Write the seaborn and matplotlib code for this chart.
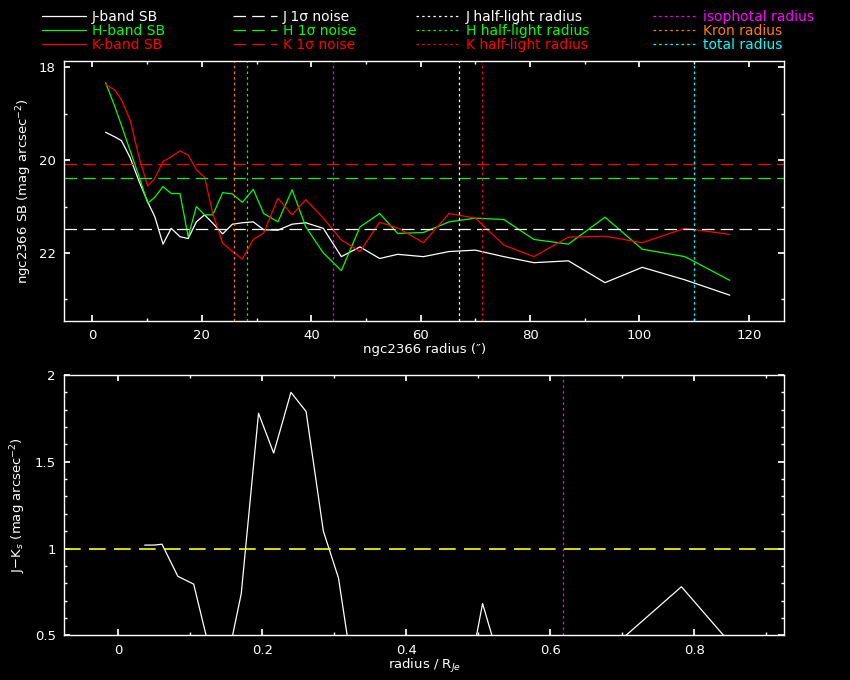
import matplotlib
matplotlib.use("Agg")
import matplotlib.pyplot as plt
from matplotlib.ticker import MultipleLocator, FuncFormatter
import pandas as pd
import seaborn as sns

# surface brightness profiles (radius in arcsec, SB in mag/arcsec^2)
radius = [2.4, 4.1, 5.3, 6.9, 8.5, 10.1, 11.4, 12.9, 14.4, 16.0, 17.5, 19.0, 20.5,
          22.0, 23.8, 25.6, 27.4, 29.4, 31.3, 33.9, 36.5, 39.0, 42.2, 45.5, 48.9,
          52.5, 55.8, 60.5, 65.2, 70.0, 75.2, 80.7, 87.0, 93.7, 100.5, 108.3, 116.5]
sb_j = [19.40, 19.50, 19.58, 19.95, 20.45, 20.90, 21.22, 21.81, 21.47, 21.65, 21.69,
        21.33, 21.18, 21.36, 21.59, 21.38, 21.35, 21.33, 21.50, 21.51, 21.38, 21.35,
        21.47, 22.08, 21.87, 22.12, 22.03, 22.08, 21.97, 21.94, 22.08, 22.21, 22.17,
        22.64, 22.31, 22.58, 22.91]
sb_h = [18.33, 18.85, 19.25, 19.80, 20.35, 20.93, 20.80, 20.57, 20.72, 20.72, 21.65,
        21.00, 21.18, 21.18, 20.70, 20.73, 20.91, 20.63, 21.15, 21.33, 20.64, 21.44,
        22.00, 22.38, 21.44, 21.15, 21.58, 21.56, 21.33, 21.25, 21.28, 21.71, 21.81,
        21.23, 21.92, 22.08, 22.59]
sb_k = [18.37, 18.49, 18.70, 19.14, 19.93, 20.56, 20.39, 20.03, 19.93, 19.80, 19.89,
        20.21, 20.37, 21.15, 21.79, 21.97, 22.13, 21.71, 21.57, 20.82, 21.18, 20.85,
        21.25, 21.72, 21.97, 21.34, 21.46, 21.78, 21.15, 21.25, 21.83, 22.08, 21.66,
        21.64, 21.78, 21.47, 21.60]

noise_j, noise_h, noise_k = 21.49, 20.39, 20.09
half_j, half_h, half_k = 67.0, 28.3, 71.2
r_iso, r_kron, r_total = 44.0, 25.9, 110.0

# colour profile
r_norm = [0.037, 0.050, 0.061, 0.083, 0.105, 0.128, 0.149, 0.171, 0.195, 0.216,
          0.240, 0.261, 0.285, 0.306, 0.330, 0.356, 0.383, 0.410, 0.440, 0.470,
          0.506, 0.545, 0.582, 0.630, 0.679, 0.782, 0.903]
j_minus_k = [1.02, 1.02, 1.025, 0.84, 0.795, 0.40, 0.30, 0.74, 1.78, 1.55,
             1.90, 1.79, 1.10, 0.83, 0.17, -0.20, -0.60, -0.75, -0.40, -0.10,
             0.683, 0.13, 0.35, 0.22, 0.405, 0.78, 0.20]
jk_ref = 1.0
r_iso_norm = 0.617

WHITE, GREEN, RED = "#ffffff", "#00ff00", "#ff0000"
ORANGE, MAGENTA, CYAN, YELLOW = "#ff8000", "#ff00ff", "#00ffff", "#ffff00"

sns.set_theme(style="ticks")
plt.rcParams.update({
    "figure.facecolor": "black",
    "axes.facecolor": "black",
    "axes.edgecolor": "white",
    "axes.linewidth": 1.0,
    "axes.labelcolor": "white",
    "text.color": "white",
    "xtick.color": "white",
    "ytick.color": "white",
    "xtick.direction": "in",
    "ytick.direction": "in",
    "xtick.top": True,
    "ytick.right": True,
    "xtick.major.size": 4.5,
    "ytick.major.size": 4.5,
    "xtick.minor.size": 2.5,
    "ytick.minor.size": 2.5,
    "xtick.major.pad": 6,
    "ytick.major.pad": 6,
    "xtick.labelsize": 9.5,
    "ytick.labelsize": 9.5,
    "axes.labelsize": 9.5,
    "axes.grid": False,
})
plt.rcParams["font.family"] = ["DejaVu Sans"]

prof = pd.DataFrame({"r": radius, "J": sb_j, "H": sb_h, "K": sb_k})
col = pd.DataFrame({"x": r_norm, "jk": j_minus_k})

fig = plt.figure(figsize=(8.5, 6.8), dpi=100)
ax1 = fig.add_axes([0.0753, 0.5284, 0.8476, 0.3815])
ax2 = fig.add_axes([0.0753, 0.0657, 0.8476, 0.3828])

lw = 0.9
dash = (0, (10, 5))
dot = (0, (2, 2.5))
groups = [[], [], [], []]
for band, c in [("J", WHITE), ("H", GREEN), ("K", RED)]:
    sns.lineplot(data=prof, x="r", y=band, ax=ax1, color=c, lw=lw,
                 sort=False, estimator=None)
    groups[0].append((ax1.lines[-1], f"{band}-band SB"))
for band, v, c in [("J", noise_j, WHITE), ("H", noise_h, GREEN), ("K", noise_k, RED)]:
    h = ax1.axhline(v, color=c, lw=lw, ls=dash)
    groups[1].append((h, f"{band} 1\u03c3 noise"))
for band, v, c in [("J", half_j, WHITE), ("H", half_h, GREEN), ("K", half_k, RED)]:
    h = ax1.axvline(v, color=c, lw=lw, ls=dot)
    groups[2].append((h, f"{band} half-light radius"))
for name, v, c in [("isophotal radius", r_iso, MAGENTA), ("Kron radius", r_kron, ORANGE),
                   ("total radius", r_total, CYAN)]:
    h = ax1.axvline(v, color=c, lw=lw, ls=dot)
    groups[3].append((h, name))

ax1.set_xlim(-5.2, 126.5)
ax1.set_ylim(23.46, 17.87)
ax1.xaxis.set_major_locator(MultipleLocator(20))
ax1.xaxis.set_minor_locator(MultipleLocator(10))
ax1.yaxis.set_major_locator(MultipleLocator(2))
ax1.yaxis.set_minor_locator(MultipleLocator(1))
ax1.set_xlabel("ngc2366 radius (\u2033)")
ax1.set_ylabel("ngc2366 SB (mag arcsec$^{-2}$)")
ax1.xaxis.set_label_coords(0.5, -0.085)
ax1.yaxis.set_label_coords(-0.042, 0.5)

sns.lineplot(data=col, x="x", y="jk", ax=ax2, color=WHITE, lw=lw,
             sort=False, estimator=None)
ax2.axhline(jk_ref, color=YELLOW, lw=1.2, ls=dash)
ax2.axvline(r_iso_norm, color=MAGENTA, lw=lw, ls=dot)
ax2.set_xlim(-0.075, 0.925)
ax2.set_ylim(0.5, 2.0)
ax2.xaxis.set_major_locator(MultipleLocator(0.2))
ax2.xaxis.set_minor_locator(MultipleLocator(0.1))
ax2.yaxis.set_major_locator(MultipleLocator(0.5))
ax2.yaxis.set_minor_locator(MultipleLocator(0.1))
fmt = FuncFormatter(lambda v, p: f"{v:g}")
ax2.xaxis.set_major_formatter(fmt)
ax2.yaxis.set_major_formatter(fmt)
ax2.set_xlabel("radius / R$_{Je}$")
ax2.set_ylabel("J\u2212K$_s$ (mag arcsec$^{-2}$)")
ax2.xaxis.set_label_coords(0.5, -0.085)
ax2.yaxis.set_label_coords(-0.050, 0.5)

for ax in (ax1, ax2):
    for s in ax.spines.values():
        s.set_visible(True)
        s.set_color("white")

# one legend column per group, placed like the reference header
col_x = [42, 233, 416, 653]
for x0, grp in zip(col_x, groups):
    fig.legend([h for h, _ in grp], [t for _, t in grp],
               loc="upper left", bbox_to_anchor=(x0 / 850, 1 - 10 / 680),
               frameon=False, fontsize=10, labelcolor="linecolor",
               handlelength=3.15, handletextpad=0.45,
               labelspacing=0.0, borderpad=0, borderaxespad=0)

fig.savefig("out.png", dpi=100, facecolor="black")
